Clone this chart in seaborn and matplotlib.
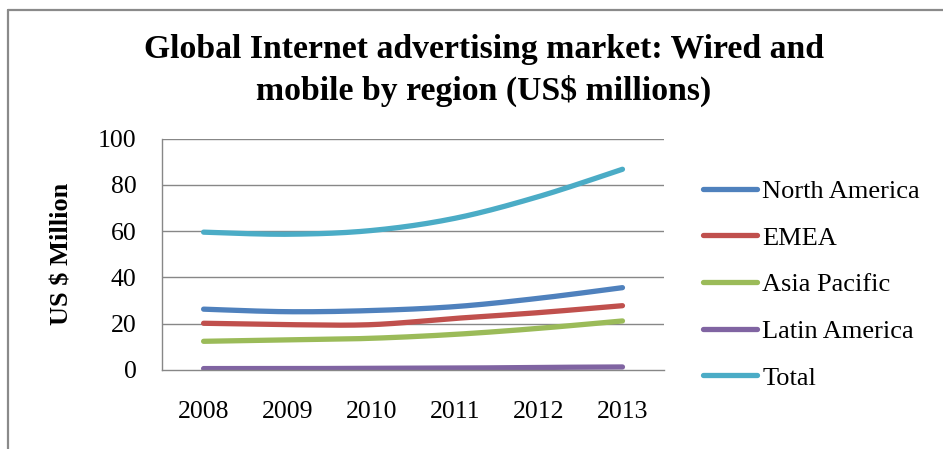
import numpy as np
import pandas as pd
import matplotlib
matplotlib.use("Agg")
import matplotlib.pyplot as plt
from matplotlib.lines import Line2D
import seaborn as sns

# Ad market by region, US$ millions
years = ["2008", "2009", "2010", "2011", "2012", "2013"]
north_america = [26.3, 25.2, 25.7, 27.4, 31.0, 35.6]
emea = [20.2, 19.6, 19.6, 22.3, 24.8, 27.8]
asia_pacific = [12.4, 13.0, 13.7, 15.4, 18.0, 21.2]
latin_america = [0.6, 0.6, 0.7, 0.8, 1.1, 1.3]
total = [59.6, 58.7, 60.3, 65.6, 75.0, 86.8]

series_names = ["North America", "EMEA", "Asia Pacific", "Latin America", "Total"]
series_values = [north_america, emea, asia_pacific, latin_america, total]
colors = ["#4F81BD", "#C0504D", "#9BBB59", "#8064A2", "#4BACC6"]
y_ticks = [0, 20, 40, 60, 80, 100]


def smooth(xs, ys, steps=30):
    """Catmull-Rom curve through the points (office-style smoothed line)."""
    xs = np.asarray(xs, float)
    ys = np.asarray(ys, float)
    px = np.concatenate([[xs[0]], xs, [xs[-1]]])
    py = np.concatenate([[ys[0]], ys, [ys[-1]]])
    out_x, out_y = [], []
    for i in range(1, len(px) - 2):
        p0, p1, p2, p3 = (np.array([px[j], py[j]]) for j in (i - 1, i, i + 1, i + 2))
        c1 = p1 + (p2 - p0) / 6.0
        c2 = p2 - (p3 - p1) / 6.0
        t = np.linspace(0, 1, steps, endpoint=(i == len(px) - 3))[:, None]
        b = ((1 - t) ** 3) * p1 + 3 * ((1 - t) ** 2) * t * c1 + 3 * (1 - t) * t ** 2 * c2 + t ** 3 * p2
        out_x.extend(b[:, 0])
        out_y.extend(b[:, 1])
    return out_x, out_y


frames = []
positions = np.arange(len(years))
for name, vals in zip(series_names, series_values):
    sx, sy = smooth(positions, vals)
    frames.append(pd.DataFrame({"x": sx, "value": sy, "series": name}))
df = pd.concat(frames, ignore_index=True)

sns.set_theme(style="white")
plt.rcParams["font.family"] = ["Liberation Serif", "DejaVu Serif"]
plt.rcParams["text.color"] = "black"
plt.rcParams["axes.labelcolor"] = "black"
plt.rcParams["xtick.color"] = "black"
plt.rcParams["ytick.color"] = "black"

fig = plt.figure(figsize=(9.43, 4.49), dpi=100)
ax = fig.add_axes([0.1715, 0.176, 0.533, 0.515])

sns.lineplot(data=df, x="x", y="value", hue="series", hue_order=series_names,
             palette=colors, linewidth=3.8, sort=False, estimator=None,
             legend=False, ax=ax, solid_capstyle="round")

ax.set_xlim(-0.5, len(years) - 0.5)
ax.set_ylim(0, 100)
ax.set_yticks(y_ticks)
ax.set_yticklabels([str(v) for v in y_ticks], fontsize=18.5)
ax.set_xticks(positions)
ax.set_xticklabels(years, fontsize=18.5)
ax.tick_params(axis="y", length=0, pad=18)
ax.tick_params(axis="x", length=0, pad=22)
ax.set_xlabel("")
ax.set_ylabel("US $ Million", fontsize=19, fontweight="bold", labelpad=18)

for v in y_ticks[1:]:
    ax.axhline(v, color="#878787", linewidth=1.0, zorder=0)
for side in ("top", "right"):
    ax.spines[side].set_visible(False)
for side in ("left", "bottom"):
    ax.spines[side].set_color("#878787")
    ax.spines[side].set_linewidth(1.0)

handles = [Line2D([0], [0], color=c, linewidth=3.8, solid_capstyle="round") for c in colors]
fig.legend(handles, series_names, loc="upper left", bbox_to_anchor=(0.7456, 0.6005),
           frameon=False, fontsize=19, handlelength=2.05, handletextpad=0.2,
           labelspacing=0.88, borderaxespad=0, borderpad=0)

fig.text(0.513, 0.843, "Global Internet advertising market: Wired and\nmobile by region (US$ millions)",
         ha="center", va="center", fontsize=24.3, fontweight="bold", linespacing=1.4)

# chart frame (top and left edges)
fig.add_artist(Line2D([8 / 943, 1.0], [1 - 10 / 449, 1 - 10 / 449], transform=fig.transFigure,
                      color="#8a8a8a", linewidth=1.6))
fig.add_artist(Line2D([8 / 943, 8 / 943], [0.0, 1 - 10 / 449], transform=fig.transFigure,
                      color="#8a8a8a", linewidth=1.6))

fig.savefig("out.png", dpi=100, facecolor="white")
